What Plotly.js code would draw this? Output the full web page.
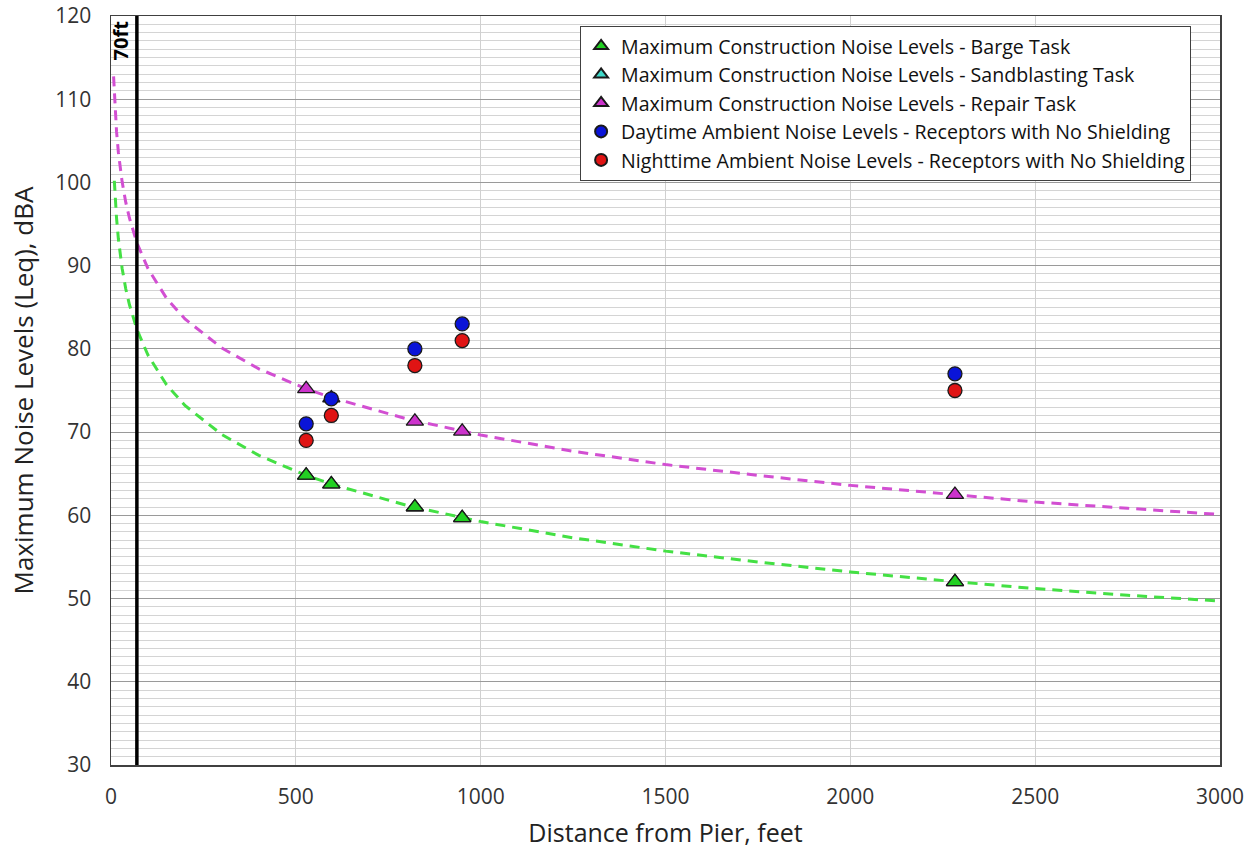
<!DOCTYPE html>
<html><head><meta charset="utf-8">
<script src="https://cdn.plot.ly/plotly-3.0.1.min.js"></script>
<style>body{margin:0;background:#fff}#chart{width:1259px;height:858px}</style>
</head><body><div id="chart"></div>
<script>
// Receptor distances (feet)
const receptorDist = [528, 596, 822, 950, 2283];
const bargeLevels = [64.8, 63.75, 61.0, 59.7, 52.0];
const sandblastLevels = [64.8, 63.75, 61.0, 59.7, 52.0];
const repairLevels = [75.2, 74.1, 71.3, 70.1, 62.5];
const dayAmbient = [71, 74, 80, 83, 77];
const nightAmbient = [69, 72, 78, 81, 75];

// Attenuation curves
const curveDistGreen = [9, 12, 15, 20, 30, 40, 50, 70, 100, 150, 200, 300, 400, 528, 600, 800, 1000, 1250, 1500, 1750, 2000, 2290, 2500, 2750, 3000];
const curveBarge = [100.2, 97.6, 95.7, 93.2, 89.7, 87.2, 85.3, 82.35, 79.25, 75.7, 73.2, 69.7, 67.2, 64.8, 63.7, 61.2, 59.25, 57.3, 55.7, 54.4, 53.2, 52.0, 51.2, 50.4, 49.7];
const curveDistMag = [7, 10, 15, 20, 30, 40, 50, 70, 100, 150, 200, 300, 400, 528, 600, 800, 1000, 1250, 1500, 1750, 2000, 2290, 2500, 2750, 3000];
const curveRepair = [112.75, 109.65, 106.1, 103.6, 100.1, 97.6, 95.7, 92.75, 89.65, 86.1, 83.6, 80.1, 77.6, 75.2, 74.1, 71.6, 69.65, 67.7, 66.1, 64.8, 63.6, 62.45, 61.6, 60.85, 60.1];

const refLineX = 70;
const refLabel = '70ft';

const outline = {color: '#1a1a1a', width: 1.3};
const traces = [
  {x: curveDistGreen, y: curveBarge, mode: 'lines', showlegend: false, hoverinfo: 'skip',
   line: {color: '#44e044', width: 3, dash: '10px,7px'}},
  {x: curveDistMag, y: curveRepair, mode: 'lines', showlegend: false, hoverinfo: 'skip',
   line: {color: '#d24fd2', width: 3, dash: '10px,7px'}},
  {x: receptorDist, y: sandblastLevels, mode: 'markers', name: 'Maximum Construction Noise Levels - Sandblasting Task',
   legendrank: 2, marker: {symbol: 'triangle-up', size: 15, color: '#3fd9c9', line: outline}},
  {x: receptorDist, y: bargeLevels, mode: 'markers', name: 'Maximum Construction Noise Levels - Barge Task',
   legendrank: 1, marker: {symbol: 'triangle-up', size: 15, color: '#22d022', line: outline}},
  {x: receptorDist, y: repairLevels, mode: 'markers', name: 'Maximum Construction Noise Levels - Repair Task',
   legendrank: 3, marker: {symbol: 'triangle-up', size: 15, color: '#cc33cc', line: outline}},
  {x: receptorDist, y: dayAmbient, mode: 'markers', name: 'Daytime Ambient Noise Levels - Receptors with No Shielding',
   legendrank: 4, marker: {symbol: 'circle', size: 14, color: '#0a14d8', line: outline}},
  {x: receptorDist, y: nightAmbient, mode: 'markers', name: 'Nighttime Ambient Noise Levels - Receptors with No Shielding',
   legendrank: 5, marker: {symbol: 'circle', size: 14, color: '#e01414', line: outline}}
];

const layout = {
  width: 1259, height: 858,
  margin: {l: 111, r: 39, t: 16, b: 93},
  paper_bgcolor: '#fff', plot_bgcolor: '#fff',
  font: {family: 'Open Sans, sans-serif', color: '#222'},
  showlegend: true,
  legend: {x: 0.423, y: 0.987, xanchor: 'left', yanchor: 'top', bgcolor: '#fff',
    bordercolor: '#404040', borderwidth: 1, font: {size: 19.6, color: '#111'},
    traceorder: 'normal', tracegroupgap: 0, itemsizing: 'constant', itemwidth: 30},
  xaxis: {range: [0, 3000], dtick: 500, tick0: 0, showgrid: true, gridcolor: '#d0d0d0', gridwidth: 1,
    zeroline: false, showline: true, linecolor: '#404040', linewidth: 1.5, mirror: true, ticks: '',
    tickfont: {size: 21, color: '#333'}, ticklabelstandoff: 12,
    title: {text: 'Distance from Pier, feet', font: {size: 25, color: '#222'}, standoff: 16}},
  yaxis: {range: [30, 120], dtick: 10, tick0: 30, showgrid: true, gridcolor: '#9a9a9a', gridwidth: 1,
    minor: {dtick: 1, showgrid: true, gridcolor: '#d4d4d4', gridwidth: 1},
    zeroline: false, showline: true, linecolor: '#404040', linewidth: 1.5, mirror: true, ticks: '',
    tickfont: {size: 21, color: '#333'}, ticklabelstandoff: 14,
    title: {text: 'Maximum Noise Levels (Leq), dBA', font: {size: 26, color: '#222'}, standoff: 14}},
  shapes: [{type: 'line', xref: 'x', yref: 'paper', x0: refLineX, x1: refLineX, y0: 0, y1: 1,
    line: {color: '#000', width: 3.5}}],
  annotations: [{x: refLineX, y: 1, xref: 'x', yref: 'paper', xanchor: 'right', yanchor: 'top',
    text: '<b>' + refLabel + '</b>', textangle: -90, showarrow: false, xshift: -1, yshift: -2,
    font: {size: 20, color: '#000', family: 'Open Sans, sans-serif'}}]
};

Plotly.newPlot('chart', traces, layout, {displayModeBar: false, staticPlot: true});
</script></body></html>
